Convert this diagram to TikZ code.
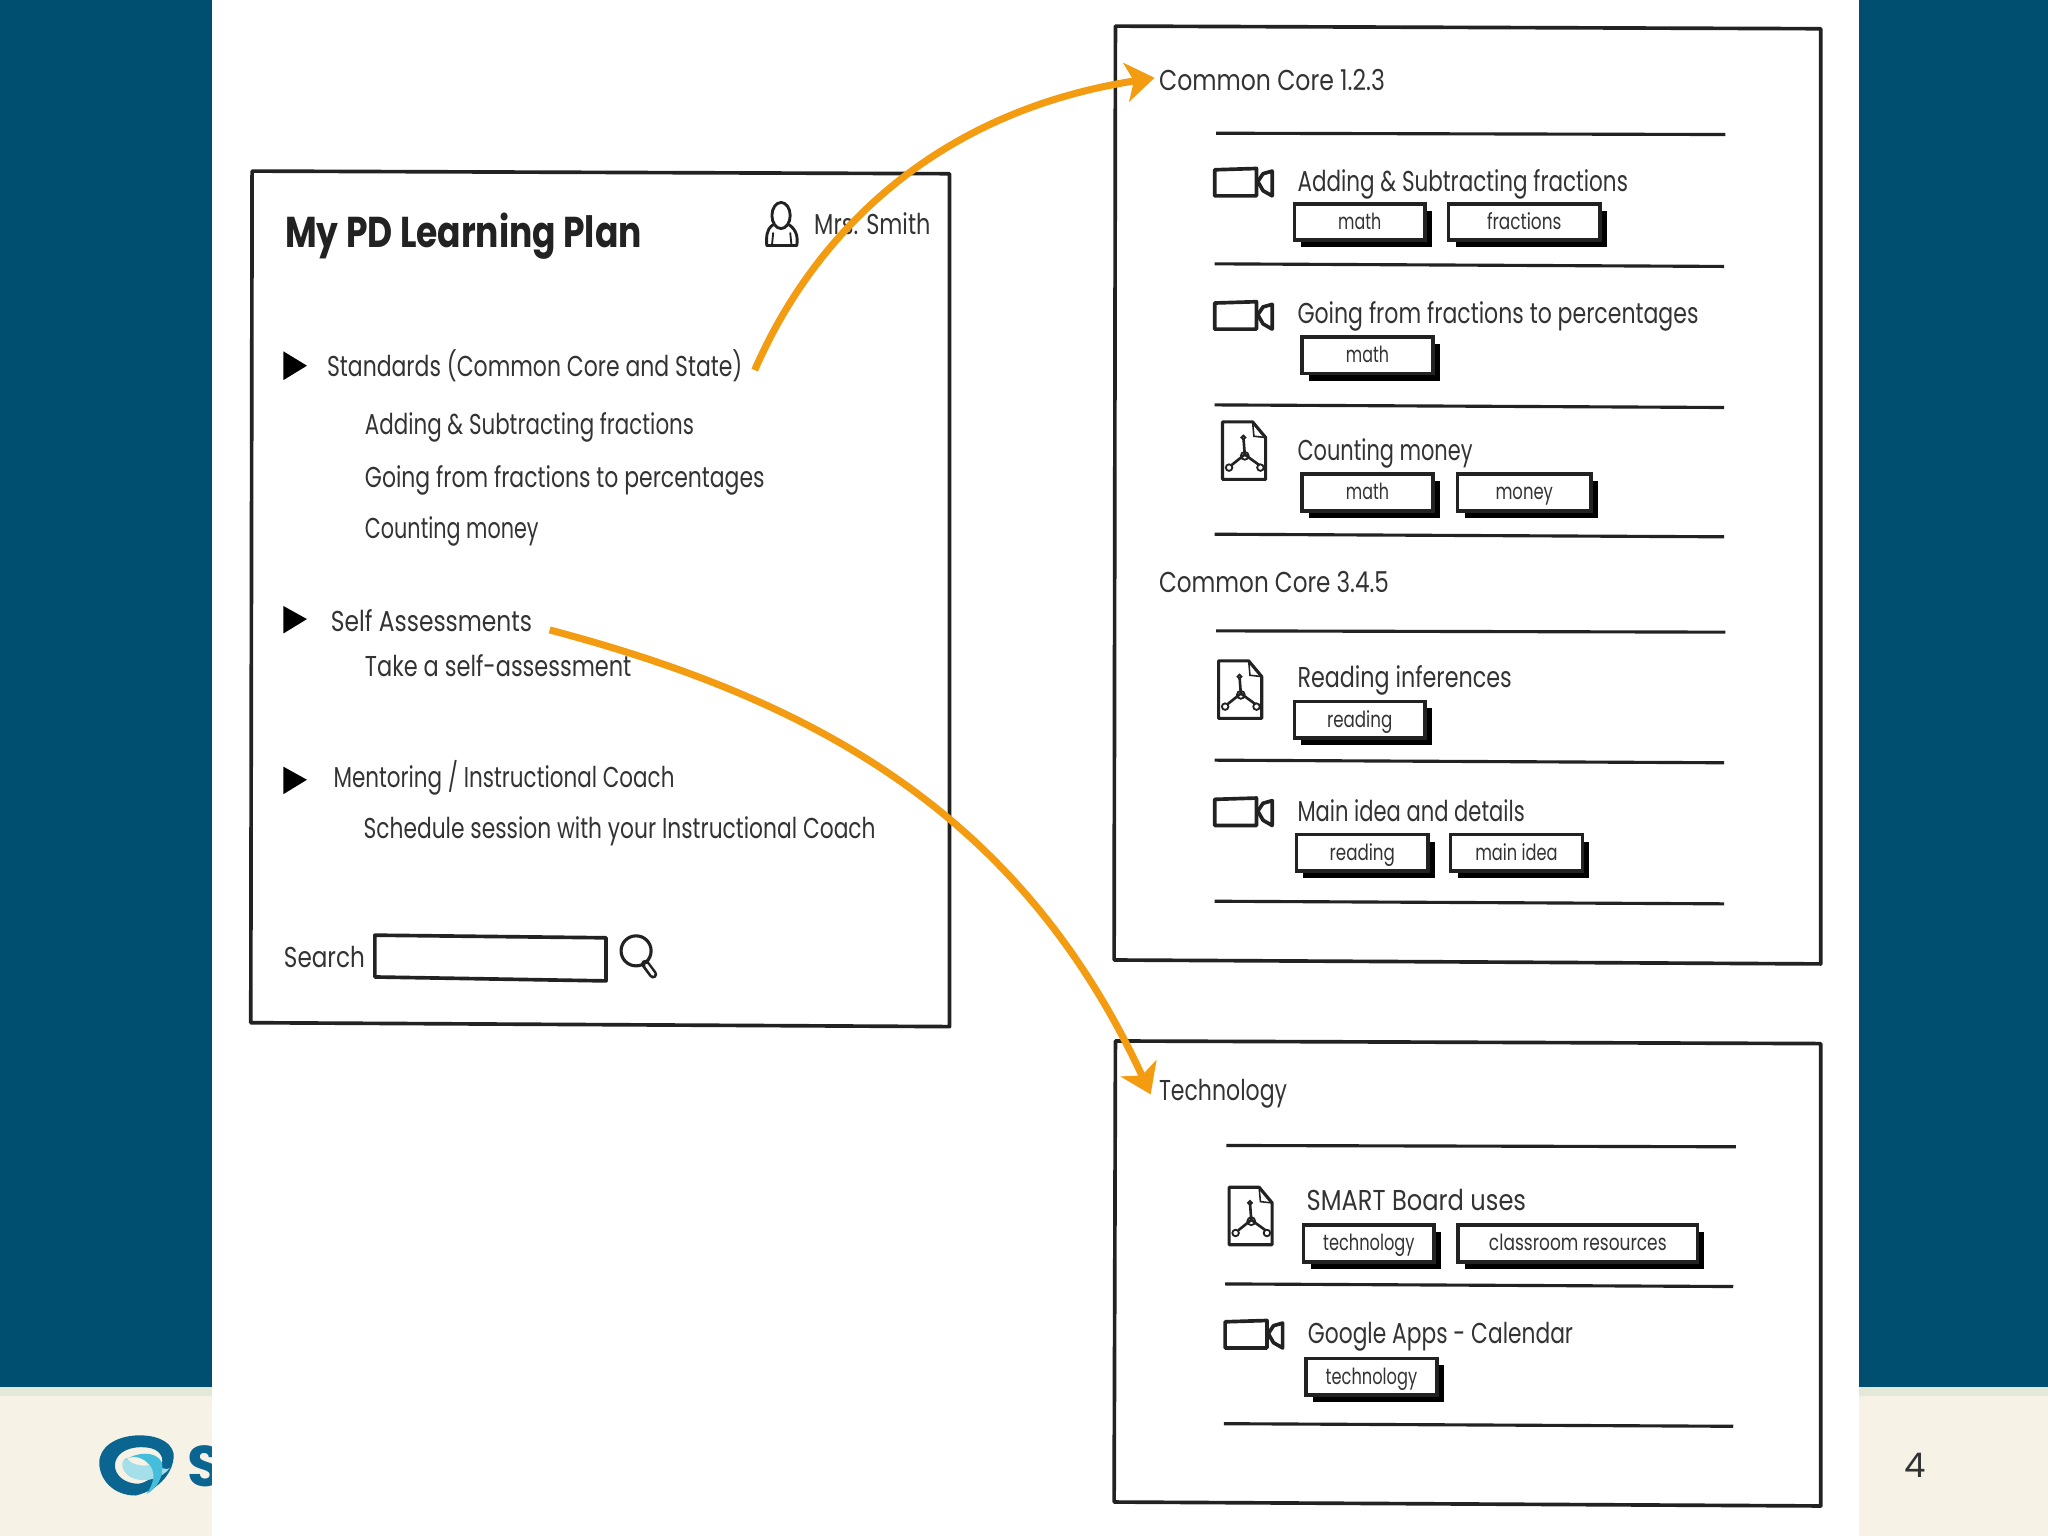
\documentclass[tikz,border=0pt]{standalone}
\usepackage{fontspec}
\usepackage{graphicx}
\setmainfont{Poppins}
\usetikzlibrary{arrows.meta,shadows,calc}
\definecolor{navy}{HTML}{004E70}
\definecolor{cream}{HTML}{F6F3E6}
\definecolor{band}{HTML}{E3E8D8}
\definecolor{ink}{HTML}{222222}
\definecolor{txt}{HTML}{333333}
\definecolor{flow}{HTML}{F39C12}
\definecolor{logod}{HTML}{0A6690}
\definecolor{logom}{HTML}{45BEDC}
\definecolor{logol}{HTML}{A5DFEA}
\tikzset{
  sketch/.style={draw=ink,line width=1.4pt,line join=round},
  rulel/.style={draw=ink,line width=1.2pt},
  icon/.style={draw=ink,line width=1.4pt,line join=round},
  label/.style={anchor=base west,inner sep=0pt,yshift=-0.3pt,text=txt,font=\fontsize{11}{13}\selectfont},
  titlel/.style={anchor=base west,inner sep=0pt,yshift=-0.4pt,text=ink,font=\fontsize{16.5}{19}\bfseries\selectfont},
  tagbox/.style={draw=ink,fill=white,line width=1.4pt,inner sep=0pt,minimum height=14pt,text=txt,
    text height=7.2pt,text depth=1.5pt,
    font=\fontsize{8.5}{10}\selectfont,general shadow={fill=black,shadow xshift=2.7pt,shadow yshift=-2.7pt}},
  flowarrow/.style={draw=flow,line width=2.7pt,-{Stealth[length=11pt,width=15pt,inset=3pt]}},
  pageback/.style={fill=#1,draw=none}
}
% width in picture units (half points), height kept
\newcommand{\fitw}[2]{\resizebox{\dimexpr #1pt/2\relax}{\height}{#2}}
\newcommand{\tagitem}[6]{\node[tagbox,minimum width=\dimexpr #4pt/2\relax] (#1) at (#2,#3) {\fitw{#6}{#5}};}
\newcommand{\camicon}[2]{\begin{scope}[shift={(#1,#2)}]
  \draw[icon] (0,1) -- (32,0) -- (32,21) -- (0,21) -- cycle;
  \draw[icon] (33,10) -- (37,4) -- (44,2) -- (44,21) -- (37,17) -- cycle;
\end{scope}}
\newcommand{\pdficon}[2]{\begin{scope}[shift={(#1,#2)}]
  \draw[icon,line width=1.2pt] (0,0) -- (23,0) -- (33,12) -- (33,44) -- (0,44) -- cycle;
  \draw[draw=ink,line width=.6pt] (23,0) -- (24,11) -- (33,12);
  \draw[draw=ink,line width=1pt] (16,12) -- (17,25) (17,25) -- (7,33) (17,25) -- (28,33);
  \draw[draw=ink,line width=.7pt] (16,12) circle[radius=1.5] (5,35) circle[radius=2.5] (29,35) circle[radius=2.5] (17,26) circle[radius=3];
\end{scope}}
\begin{document}
\begin{tikzpicture}[x=0.5pt,y=-0.5pt]
\useasboundingbox (0,0) rectangle (1568,1176);
% slide background
\fill[pageback=navy] (0,0) rectangle (1568,1062);
\fill[pageback=cream] (0,1062) rectangle (1568,1176);
\fill[pageback=band] (0,1062) rectangle (1568,1069);
% logo
\fill[logod,even odd rule] (104,1099) .. controls (124,1098) and (134,1107) .. (133,1116) .. controls (132,1126) and (124,1140) .. (104,1145) .. controls (86,1145) and (76,1132) .. (76,1120) .. controls (76,1108) and (88,1100) .. (104,1099)
  (108,1108) .. controls (96,1108) and (88,1114) .. (88,1122) .. controls (88,1130) and (96,1136) .. (106,1136) .. controls (118,1134) and (126,1122) .. (124,1116) .. controls (122,1110) and (116,1108) .. (108,1108);
\fill[logol] (119,1120) .. controls (112,1124) and (100,1122) .. (97,1116) .. controls (92,1118) and (92,1126) .. (100,1131) .. controls (110,1136) and (124,1132) .. (130,1124) .. controls (127,1126) and (123,1124) .. (119,1120);
\fill[logom] (96,1118) .. controls (103,1112) and (120,1110) .. (124,1120) .. controls (126,1130) and (120,1140) .. (112,1144) .. controls (118,1136) and (120,1126) .. (113,1120) .. controls (108,1115) and (100,1114) .. (96,1118);
\node[anchor=base west,inner sep=0pt,text=logod,font=\fontsize{22}{24}\bfseries\selectfont] (brand) at (143,1138) {S};
\fill[pageback=white] (162,0) rectangle (1423,1176);
\node[anchor=center,inner sep=0pt,text=txt,font=\fontsize{13}{15}\selectfont] (pagenum) at (1466,1122) {4};

% windows
\draw[sketch] (193,131) -- (727,133) -- (727,786) -- (192,783) -- cycle;
\draw[sketch] (854,20) -- (1394,22) -- (1394,738) -- (853,735) -- cycle;
\draw[sketch] (854,797) -- (1394,799) -- (1394,1153) -- (853,1150) -- cycle;

% left panel
\node[titlel] (title) at (218,189) {\fitw{273}{My PD Learning Plan}};
\node[label] (user) at (623,179) {\fitw{89}{Mrs. Smith}};
\draw[icon,line width=1.1pt] (598,165) ellipse[x radius=7,y radius=10];
\draw[icon,line width=1.1pt] (592,172) .. controls (586,176) and (587,182) .. (587,188) -- (610,188) .. controls (611,182) and (610,176) .. (604,172);
\draw[draw=ink,line width=.7pt] (591,188) -- (592,178) (606,188) -- (605,178);

\fill[black] (217,269) -- (235,280) -- (217,291) -- cycle;
\fill[black] (217,464) -- (235,474) -- (217,485) -- cycle;
\fill[black] (217,587) -- (235,597) -- (217,608) -- cycle;
\node[label] (std) at (250,288) {\fitw{318}{Standards (Common Core and State)}};
\node[label] (l1) at (279,332) {\fitw{252}{Adding \& Subtracting fractions}};
\node[label] (l2) at (279,373) {\fitw{306}{Going from fractions to percentages}};
\node[label] (l3) at (279,412) {\fitw{133}{Counting money}};
\node[label] (self) at (253,483) {\fitw{154}{Self Assessments}};
\node[label] (l4) at (279,517) {\fitw{204}{Take a self-assessment}};
\node[label] (ment) at (255,602) {\fitw{261}{Mentoring / Instructional Coach}};
\node[label] (l5) at (278,641) {\fitw{392}{Schedule session with your Instructional Coach}};
\node[label] (search) at (217,740) {\fitw{62}{Search}};
\draw[icon] (287,716) -- (464,718) -- (464,751) -- (287,748) -- cycle;
\draw[icon,line width=1.2pt] (487,728) circle[radius=11.5];
\draw[draw=ink,line width=3.2pt,line cap=round] (494,738) -- (500,746);
\draw[draw=white,line width=1.2pt,line cap=round] (495,739) -- (500,746);

% top right panel
\node[label] (cc1) at (887,69) {\fitw{173}{Common Core 1.2.3}};
\draw[rulel] (931,102) -- (1321,103);
\camicon{930}{129}
\node[label] (r1) at (993,146) {\fitw{253}{Adding \& Subtracting fractions}};
\tagitem{t1}{1041}{170}{100}{math}{33}
\tagitem{t2}{1167}{170}{116}{fractions}{57}
\draw[rulel] (930,202) -- (1320,204);
\camicon{930}{231}
\node[label] (r2) at (993,247) {\fitw{307}{Going from fractions to percentages}};
\tagitem{t3}{1047}{272}{100}{math}{33}
\draw[rulel] (930,310) -- (1320,312);
\pdficon{936}{323}
\node[label] (r3) at (993,352) {\fitw{134}{Counting money}};
\tagitem{t4}{1047}{377}{100}{math}{33}
\tagitem{t5}{1167}{377}{102}{money}{44}
\draw[rulel] (930,409) -- (1320,411);
\node[label] (cc2) at (887,453) {\fitw{176}{Common Core 3.4.5}};
\draw[rulel] (931,483) -- (1321,484);
\pdficon{933}{506}
\node[label] (r4) at (993,526) {\fitw{164}{Reading inferences}};
\tagitem{t6}{1041}{551}{100}{reading}{50}
\draw[rulel] (930,582) -- (1320,584);
\camicon{930}{611}
\node[label] (r5) at (993,628) {\fitw{174}{Main idea and details}};
\tagitem{t7}{1043}{653}{101}{reading}{50}
\tagitem{t8}{1161}{653}{101}{main idea}{63}
\draw[rulel] (930,690) -- (1320,692);

% bottom right panel
\node[label] (tech) at (887,842) {\fitw{98}{Technology}};
\draw[rulel] (939,877) -- (1329,878);
\pdficon{941}{909}
\node[label] (b1) at (1000,926) {\fitw{168}{SMART Board uses}};
\tagitem{t9}{1048}{952}{100}{technology}{70}
\tagitem{t10}{1208}{952}{183}{classroom resources}{136}
\draw[rulel] (938,983) -- (1327,985);
\camicon{938}{1011}
\node[label] (b2) at (1001,1028) {\fitw{203}{Google Apps - Calendar}};
\tagitem{t11}{1050}{1054}{100}{technology}{70}
\draw[rulel] (937,1090) -- (1327,1092);

% connectors
\draw[flowarrow] ($(std.east)+(9,3)$) .. controls (625,175) and (720,85) .. ($(cc1.west)+(-3,-2)$);
\draw[flowarrow] ($(self.east)+(13,7)$) .. controls (620,535) and (780,620) .. ($(tech.north west)+(-6,12)$);
\end{tikzpicture}
\end{document}
